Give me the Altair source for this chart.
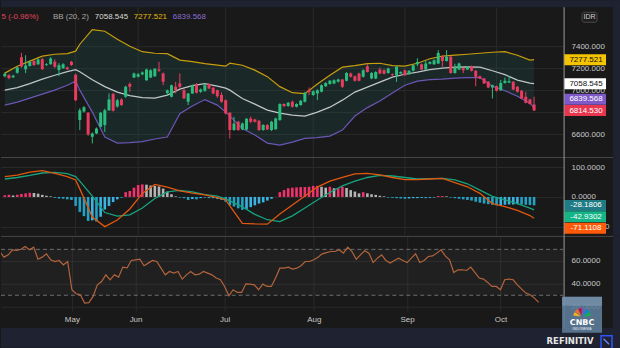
import json
import altair as alt
import pandas as pd

# ---------------- data ----------------
bars = list(range(128))
open_ = [7127, 7136, 7118, 7158, 7300, 7190, 7220, 7265, 7235, 7282,
         7228, 7236, 7258, 7183, 7200, 7207, 7258, 7140, 6727, 6805,
         6794, 6576, 6606, 6667, 6682, 6818, 6964, 6850, 6915, 6939,
         7055, 7115, 7121, 7145, 7091, 7115, 7127, 7188, 7152, 6975,
         6940, 7030, 7061, 7000, 6894, 6970, 7052, 6985, 6994, 7055,
         7021, 7000, 6955, 6909, 6794, 6636, 6712, 6642, 6642, 6742,
         6733, 6721, 6636, 6682, 6636, 6645, 6727, 6873, 6855, 6894,
         6848, 6864, 6894, 7000, 6955, 6970, 6985, 7036, 7055, 7061,
         7076, 7097, 7085, 7152, 7127, 7152, 7121, 7218, 7106, 7106,
         7188, 7182, 7157, 7145, 7136, 7152, 7182, 7145, 7176, 7236,
         7236, 7188, 7240, 7236, 7243, 7309, 7266, 7303, 7157, 7188,
         7200, 7188, 7218, 7176, 7127, 7106, 7076, 7024, 7036, 7000,
         7066, 7070, 7076, 7030, 6994, 6939, 6915, 6870]
high = [7160, 7145, 7140, 7212, 7340, 7318, 7270, 7275, 7290, 7295,
        7245, 7300, 7280, 7245, 7245, 7215, 7265, 7150, 6836, 6855,
        6800, 6615, 6660, 6800, 6830, 6970, 6975, 6920, 6925, 7040,
        7070, 7160, 7155, 7170, 7195, 7190, 7200, 7257, 7160, 7005,
        7050, 7075, 7152, 7010, 6975, 7050, 7065, 7015, 7060, 7062,
        7030, 7005, 6980, 6915, 6800, 6757, 6720, 6705, 6745, 6760,
        6740, 6728, 6690, 6690, 6720, 6750, 6880, 6880, 6892, 6905,
        6880, 6910, 6985, 7025, 6998, 7008, 7052, 7072, 7092, 7098,
        7104, 7102, 7164, 7160, 7133, 7158, 7190, 7235, 7164, 7172,
        7206, 7190, 7204, 7152, 7218, 7172, 7188, 7182, 7233, 7290,
        7242, 7270, 7263, 7280, 7364, 7315, 7364, 7310, 7240, 7250,
        7206, 7218, 7224, 7182, 7133, 7112, 7082, 7050, 7042, 7093,
        7115, 7130, 7082, 7036, 7000, 6985, 6921, 6940]
low = [7118, 7100, 7110, 7150, 7205, 7155, 7215, 7220, 7230, 7185,
       7220, 7232, 7200, 7128, 7195, 7185, 7220, 6900, 6636, 6795,
       6585, 6515, 6600, 6660, 6620, 6810, 6805, 6840, 6855, 6930,
       6985, 7110, 7115, 7135, 7085, 7110, 7120, 7167, 7045, 6950,
       6935, 6970, 7015, 6920, 6864, 6965, 6970, 6975, 6985, 7010,
       6962, 6930, 6885, 6780, 6560, 6630, 6628, 6635, 6635, 6700,
       6705, 6628, 6630, 6636, 6628, 6640, 6720, 6845, 6848, 6840,
       6842, 6858, 6888, 6955, 6948, 6909, 6980, 7030, 7050, 7055,
       7070, 7020, 7080, 7115, 7078, 7080, 7115, 7160, 7100, 7100,
       7146, 7144, 7150, 7130, 7075, 7146, 7130, 7140, 7170, 7218,
       7182, 7182, 7234, 7230, 7238, 7212, 7260, 7150, 7150, 7182,
       7155, 7182, 7170, 7036, 7100, 7055, 7018, 6924, 6988, 6994,
       7060, 7064, 7000, 6979, 6918, 6879, 6867, 6810]
close = [7150, 7110, 7130, 7206, 7215, 7225, 7258, 7228, 7278, 7190,
         7236, 7288, 7212, 7227, 7236, 7190, 7228, 6909, 6818, 6845,
         6597, 6606, 6650, 6794, 6818, 6915, 6812, 6909, 6864, 7030,
         7030, 7152, 7145, 7160, 7188, 7182, 7194, 7176, 7076, 7000,
         7045, 7000, 7030, 6924, 6970, 7045, 6976, 7005, 7045, 7015,
         6970, 6945, 6894, 6788, 6636, 6697, 6636, 6697, 6739, 6712,
         6712, 6636, 6682, 6642, 6712, 6742, 6873, 6855, 6885, 6848,
         6873, 6903, 6976, 6982, 6991, 7000, 7045, 7066, 7085, 7091,
         7097, 7030, 7157, 7121, 7085, 7085, 7182, 7166, 7157, 7166,
         7152, 7150, 7197, 7136, 7212, 7166, 7136, 7176, 7227, 7257,
         7188, 7243, 7257, 7273, 7339, 7266, 7303, 7157, 7206, 7243,
         7182, 7212, 7176, 7121, 7106, 7061, 7024, 7045, 6994, 7066,
         7085, 7080, 7006, 6985, 6924, 6885, 6873, 6814.53]

line_bars = [0, 3, 6, 9, 12, 15, 17, 18, 21, 24, 27, 30, 33, 36, 39, 42, 45, 48,
             51, 53, 54, 57, 60, 63, 66, 69, 72, 75, 78, 81, 84, 87, 90, 93, 96,
             99, 102, 105, 108, 111, 114, 117, 120, 123, 126, 127]
bb_upper = [7155, 7218, 7264, 7309, 7327, 7332, 7355, 7418, 7550, 7536, 7464,
            7400, 7350, 7336, 7332, 7273, 7259, 7241, 7227, 7218, 7245, 7227,
            7182, 7123, 7032, 6977, 6968, 7055, 7136, 7209, 7223, 7241, 7245,
            7223, 7218, 7245, 7286, 7309, 7318, 7327, 7336, 7345, 7350, 7318,
            7273, 7277.521]
bb_mid = [7000, 7023, 7059, 7100, 7136, 7168, 7186, 7168, 7095, 7032, 6982,
          6950, 6932, 6927, 6955, 7009, 7041, 7059, 7036, 7018, 7000, 6923,
          6873, 6818, 6791, 6773, 6764, 6800, 6845, 6909, 6982, 7027, 7073,
          7118, 7145, 7164, 7186, 7200, 7209, 7212, 7209, 7177, 7141, 7091,
          7064, 7058.545]
bb_lower = [6864, 6891, 6927, 6964, 7000, 7045, 7082, 7000, 6800, 6573, 6518,
            6523, 6532, 6555, 6573, 6786, 6855, 6914, 6864, 6800, 6764, 6650,
            6591, 6518, 6500, 6527, 6561, 6568, 6582, 6636, 6764, 6841, 6902,
            6973, 7045, 7082, 7095, 7100, 7109, 7114, 7115, 7036, 6995, 6945,
            6882, 6839.568]
macd_line = [67.7, 73, 83, 88, 79, 68, 57, 27, -67, -99, -77, -40, 12, 42, 33,
             20, 13, 7, -2, -10, -30, -88, -90, -91, -57, -27, 3, 33, 53, 65,
             77, 79, 74, 65, 58, 58, 60, 62, 48, 34, 12, -22, -32, -45, -62,
             -71.1108]
signal_line = [60, 65, 72, 80, 82, 78, 68, 53, 3, -52, -64, -60, -37, -5, 17,
               22, 17, 8, 3, -7, -13, -33, -58, -76, -82, -63, -37, -10, 15, 37,
               53, 65, 72, 70, 65, 60, 61, 62, 57, 44, 23, 2, -10, -22, -37,
               -42.9302]
hist = [6, 7, 5, 7, 10, 12, 14, 13, 11, 7,
        4, 2, -3, -5, -6, -8, -10, -30, -50, -64,
        -80, -78, -82, -66, -42, -30, -17, -8, -2, 16,
        20, 31, 40, 42, 41, 38, 37, 35, 28, 18,
        9, 2, -2, -4, -10, -7, -8, -4, -2, -4,
        -4, -7, -10, -16, -27, -32, -38, -43, -40, -34,
        -28, -22, -18, -12, -6, 0.5, 16, 23, 29, 31,
        32, 33, 33, 34, 37, 37, 34, 31, 34, 29,
        29, 34, 30, 23, 18, 12, 16, 12, 9, 7,
        4, 2, -2, -3, -4, -5, -6, -5, -4, -4,
        -3, -4, -3, -2, 3, 3, 2, -2, -4, -6,
        -8, -10, -12, -16, -19, -22, -24, -26, -28, -27,
        -26, -25, -25, -24, -25, -26, -27, -28.1806]
rsi = [68.1, 63.2, 65.2, 69.6, 69, 70.1, 72.5, 69.6, 71.9, 61.4,
       63.2, 66.1, 60.9, 59.4, 60.3, 56.5, 59.4, 34.8, 31.3, 30.4,
       23.2, 23.6, 29, 39.1, 42, 47.8, 43.5, 47.8, 45.8, 54.5,
       53.8, 60.3, 60.9, 61.4, 55.7, 58, 60.3, 59.4, 53.6, 47.8,
       50.7, 49.3, 50.7, 44.1, 47.8, 50.7, 47.8, 48.4, 50.7, 49.3,
       47.8, 45, 43.5, 37.7, 29.6, 34.8, 32.5, 32.5, 40, 39.7,
       39.1, 34.8, 39.7, 37.7, 37.7, 45, 53.6, 53.6, 54.5, 52.8,
       53.6, 55.7, 59.4, 59.4, 60.9, 63.2, 66.1, 67.2, 68.1, 68.1,
       69.6, 66.7, 71.9, 68.1, 61.4, 65.2, 68.7, 66.7, 58.5, 62.3,
       65.2, 60.3, 58, 60.3, 62.3, 60.3, 58.5, 62.3, 66.1, 58.5,
       60.3, 63.8, 64.3, 66.7, 69.6, 64.3, 60.9, 49.8, 52.2, 52.2,
       51.6, 54.5, 49.8, 45, 44.1, 41.2, 37.7, 37.7, 34.8, 43.5,
       44.1, 43.5, 39.1, 35.4, 31.9, 30.4, 27.5, 23.8]

month_ticks = [17, 32, 53, 74, 96, 118]
month_labels = ["May", "Jun", "Jul", "Aug", "Sep", "Oct"]
price_ticks = [6600, 6800, 7000, 7200, 7400]
macd_ticks = [-100, 0, 100]
rsi_ticks = [20, 40, 60]
rsi_band = [70, 30]
change_text = "5 (-0.96%)"
bb_name = "BB (20, 2)"
currency = "IDR"
feathers = [1, 1, 1, 1, 1, 1]

# ---------------- style ----------------
FONT = "Liberation Sans"
BG = "#191919"
NAVY = "#1f2230"
GRID = "#2a2a2a"
SEP = "#474747"
TXT = "#c8c8c8"
UP, DOWN = "#2bbd7e", "#ea3c5e"
C_UP, C_MID, C_LOW = "#c79d0e", "#c0c6c7", "#6b56b6"
C_MACD, C_SIG = "#e0570f", "#17a37f"
POS_UP, POS_DN, NEG_DN, NEG_UP = "#f0336c", "#b4b4b4", "#22a2c4", "#3ab4e2"
C_RSI = "#b3643c"
FEATHER_COLORS = ["#fcb711", "#f37021", "#cc004c", "#6460aa", "#0089d0", "#0db14b"]

W = 563
H1, H2, H3 = 150, 79, 75
FULL_W = 620

one = pd.DataFrame({"k": [0]})


def deco_rect(x, x2, y, y2, **kw):
    return alt.Chart(one).mark_rect(**kw).encode(
        x=alt.value(x), x2=alt.value(x2), y=alt.value(y), y2=alt.value(y2))


def deco_rule(x, x2, y, y2, **kw):
    return alt.Chart(one).mark_rule(**kw).encode(
        x=alt.value(x), x2=alt.value(x2), y=alt.value(y), y2=alt.value(y2))


def deco_text(x, y, txt, **kw):
    return alt.Chart(one).mark_text(**kw).encode(
        x=alt.value(x), y=alt.value(y), text=alt.value(txt))


xscale = alt.Scale(domain=[0.29, 132.76], nice=False, zero=False)
label_expr = "%s[indexof(%s, datum.value)]" % (json.dumps(month_labels), json.dumps(month_ticks))
xaxis_lab = alt.Axis(values=month_ticks, grid=True, gridColor=GRID, labels=True,
                     labelExpr=label_expr, ticks=False, domain=False, title=None,
                     labelColor=TXT, labelFontSize=8, labelFont=FONT, labelPadding=5,
                     labelFlush=False, labelOverlap=False)
X1 = alt.X("bar:Q", scale=xscale, axis=None)


def month_grid():
    return alt.Chart(pd.DataFrame({"bar": month_ticks})).mark_rule(
        color=GRID, strokeWidth=1).encode(x=X1)


def yaxis(vals, fmt):
    return alt.Axis(orient="right", values=vals, format=fmt, grid=True, gridColor=GRID,
                    domain=False, ticks=False, labelPadding=8, labelColor=TXT,
                    labelFontSize=8, labelFont=FONT, title=None, labelOverlap=False)


def value_box(value, txt, bg, fg, ysc, yax, dy=0):
    d = alt.Chart(pd.DataFrame({"v": [value]}))
    r = d.mark_rect(color=bg, yOffset=dy - 5.5, y2Offset=dy + 5.5).encode(
        x=alt.value(W + 1), x2=alt.value(W + 43),
        y=alt.Y("v:Q", scale=ysc, axis=yax), y2="v:Q")
    t = d.mark_text(color=fg, font=FONT, fontSize=8, align="center",
                    baseline="middle", dy=dy).encode(
        x=alt.value(W + 23), y=alt.Y("v:Q", scale=ysc, axis=yax), text=alt.value(txt))
    return [r, t]


# ---------------- main price panel ----------------
candles = pd.DataFrame({"bar": bars, "o": open_, "h": high, "l": low, "c": close})
candles["col"] = [UP if c >= o else DOWN for o, c in zip(open_, close)]
bb = pd.DataFrame({"bar": line_bars, "upper": bb_upper, "mid": bb_mid, "lower": bb_lower})

ys1 = alt.Scale(domain=[6391, 7754.5], nice=False, zero=False)
ya1 = yaxis(price_ticks, ".3f")

layers1 = [
    month_grid(),
    alt.Chart(bb).mark_area(clip=True, color="#1d6b66", opacity=0.2).encode(
        x=X1, y=alt.Y("upper:Q", scale=ys1, axis=ya1), y2="lower:Q"),
    alt.Chart(bb).mark_line(clip=True, color=C_UP, strokeWidth=1.2).encode(
        x=X1, y=alt.Y("upper:Q", scale=ys1, axis=ya1)),
    alt.Chart(bb).mark_line(clip=True, color=C_MID, strokeWidth=1.2).encode(
        x=X1, y=alt.Y("mid:Q", scale=ys1, axis=ya1)),
    alt.Chart(bb).mark_line(clip=True, color=C_LOW, strokeWidth=1.2).encode(
        x=X1, y=alt.Y("lower:Q", scale=ys1, axis=ya1)),
    alt.Chart(candles).mark_rule(clip=True, strokeWidth=1).encode(
        x=X1, y=alt.Y("l:Q", scale=ys1, axis=ya1), y2="h:Q",
        color=alt.Color("col:N", scale=None)),
    alt.Chart(candles).mark_bar(clip=True, size=3).encode(
        x=X1, y=alt.Y("o:Q", scale=ys1, axis=ya1), y2="c:Q",
        color=alt.Color("col:N", scale=None)),
]
layers1 += value_box(bb_upper[-1], f"{bb_upper[-1]:.3f}", "#f5c400", "#111111", ys1, ya1)
layers1 += value_box(bb_mid[-1], f"{bb_mid[-1]:.3f}", "#ffffff", "#111111", ys1, ya1)
layers1 += value_box(bb_lower[-1], f"{bb_lower[-1]:.3f}", "#8059c9", "#ffffff", ys1, ya1, dy=-8.6)
layers1 += value_box(close[-1], f"{close[-1]:.3f}", "#e8364f", "#ffffff", ys1, ya1)
layers1 += [
    deco_text(0.5, 10, change_text, color="#e0455e", font=FONT, fontSize=8, align="left", baseline="middle"),
    deco_text(52, 10, bb_name, color="#a8a8a8", font=FONT, fontSize=8, align="left", baseline="middle"),
    deco_text(94, 10, f"{bb_mid[-1]:.3f}", color="#d8d8d8", font=FONT, fontSize=8, align="left", baseline="middle"),
    deco_text(133, 10, f"{bb_upper[-1]:.3f}", color="#e2b80a", font=FONT, fontSize=8, align="left", baseline="middle"),
    deco_text(172, 10, f"{bb_lower[-1]:.3f}", color="#8a6bd0", font=FONT, fontSize=8, align="left", baseline="middle"),
    deco_rect(W + 19, W + 34, 5, 15, color="#1e1e1e", stroke="#4a4a4a", strokeWidth=1, cornerRadius=2),
    deco_text(W + 26.5, 10, currency, color="#d0d0d0", font=FONT, fontSize=7, align="center", baseline="middle"),
    deco_rect(0, FULL_W, -7, 0, color=NAVY),
    deco_rect(613, FULL_W, -7, H1, color=NAVY),
    deco_rule(W + 1, W + 1, 0, H1, color="#9a9a9a", strokeWidth=1),
]
chart1 = alt.layer(*layers1).properties(width=W, height=H1)

# ---------------- MACD panel ----------------
hcol = []
prev = hist[0]
for v in hist:
    if v >= 0:
        hcol.append(POS_UP if v >= prev else POS_DN)
    else:
        hcol.append(NEG_DN if v < prev else NEG_UP)
    prev = v
hdf = pd.DataFrame({"bar": bars, "hist": hist, "col": hcol})
mdf = pd.DataFrame({"bar": line_bars, "macd": macd_line, "signal": signal_line})

ys2 = alt.Scale(domain=[-130, 133.3], nice=False, zero=False)
ya2 = yaxis(macd_ticks, ".4f")
layers2 = [
    month_grid(),
    alt.Chart(hdf).mark_bar(clip=True, size=2.6).encode(
        x=X1, y=alt.Y("hist:Q", scale=ys2, axis=ya2), y2=alt.datum(0),
        color=alt.Color("col:N", scale=None)),
    alt.Chart(mdf).mark_line(clip=True, color=C_SIG, strokeWidth=1.3).encode(
        x=X1, y=alt.Y("signal:Q", scale=ys2, axis=ya2)),
    alt.Chart(mdf).mark_line(clip=True, color=C_MACD, strokeWidth=1.3).encode(
        x=X1, y=alt.Y("macd:Q", scale=ys2, axis=ya2)),
]
layers2 += value_box(hist[-1], f"{hist[-1]:.4f}", "#1f7c84", "#ffffff", ys2, ya2)
layers2 += value_box(signal_line[-1], f"{signal_line[-1]:.4f}", "#14b487", "#ffffff", ys2, ya2, dy=7)
layers2 += value_box(macd_line[-1], f"{macd_line[-1]:.4f}", "#ff5a0a", "#ffffff", ys2, ya2, dy=10)
layers2 += [
    deco_rule(0, 613, 0.5, 0.5, color=SEP, strokeWidth=1),
    deco_rect(613, FULL_W, 0, H2, color=NAVY),
    deco_rule(W + 1, W + 1, 0, H2, color="#9a9a9a", strokeWidth=1),
]
chart2 = alt.layer(*layers2).properties(width=W, height=H2)

# ---------------- RSI panel ----------------
rdf = pd.DataFrame({"bar": bars, "rsi": rsi})
band = pd.DataFrame({"hi": [rsi_band[0]], "lo": [rsi_band[1]]})
lvl = pd.DataFrame({"lvl": rsi_band})
ys3 = alt.Scale(domain=[16.5, 81.7], nice=False, zero=False)
ya3 = yaxis(rsi_ticks, ".4f")
X3 = alt.X("bar:Q", scale=xscale, axis=xaxis_lab)

layers3 = [
    alt.Chart(band).mark_rect(color="#ffffff", opacity=0.03).encode(
        x=alt.value(0), x2=alt.value(W),
        y=alt.Y("hi:Q", scale=ys3, axis=ya3), y2="lo:Q"),
    alt.Chart(lvl).mark_rule(color="#6e6e6e", strokeDash=[4, 3], strokeWidth=1).encode(
        x=alt.value(0), x2=alt.value(W), y=alt.Y("lvl:Q", scale=ys3, axis=ya3)),
    alt.Chart(rdf).mark_line(clip=True, color=C_RSI, strokeWidth=1.2).encode(
        x=X3, y=alt.Y("rsi:Q", scale=ys3, axis=ya3)),
    deco_rule(0, 613, 0.5, 0.5, color=SEP, strokeWidth=1),
    deco_rule(W + 1, W + 1, 0, H3 + 17, color="#9a9a9a", strokeWidth=1),
    deco_rect(0, FULL_W, H3 + 17, H3 + 37, color=NAVY),
    deco_rect(613, FULL_W, 0, H3 + 37, color=NAVY),
    # CNBC badge
    deco_rect(W - 1, W + 39, H3 - 14, H3 + 22, color="#5d7b98", opacity=0.9),
    deco_rect(W - 1, W + 39, H3 - 14, H3 - 5, color="#8aa3bb", opacity=0.5),
    alt.Chart(pd.DataFrame({"w": feathers, "fc": FEATHER_COLORS, "i": list(range(6))})).mark_arc(
        innerRadius=2, outerRadius=9, stroke="#5d7b98", strokeWidth=0.5).encode(
        theta=alt.Theta("w:Q", stack=True, scale=alt.Scale(range=[-1.45, 1.45])),
        order=alt.Order("i:Q"),
        color=alt.Color("fc:N", scale=None),
        x=alt.value(W + 19), y=alt.value(H3 + 6)),
    deco_text(W + 19, H3 + 12.5, "CNBC", color="#ffffff", font="DejaVu Sans", fontSize=8,
              fontWeight="bold", align="center", baseline="middle"),
    deco_text(W + 19, H3 + 18, "INDONESIA", color="#e8eef4", font=FONT, fontSize=3.5,
              align="center", baseline="middle"),
    deco_text(570, H3 + 30, "REFINITIV", color="#e6e6e6", font="DejaVu Sans", fontSize=8.5,
              fontWeight="bold", align="center", baseline="middle"),
    deco_rect(601, 612, H3 + 25, H3 + 38, color=NAVY, stroke="#2f55ff", strokeWidth=1.5),
    deco_rule(603.5, 609, H3 + 28, H3 + 33.5, color="#6f8bff", strokeWidth=1.2),
]
chart3 = alt.layer(*layers3).properties(width=W, height=H3)

chart = (
    alt.vconcat(chart1, chart2, chart3, spacing=0, bounds="flush")
    .resolve_scale(x="independent", y="independent", color="independent", theta="independent")
    .resolve_axis(x="independent", y="independent")
    .properties(background=BG, padding=0)
    .configure_view(stroke=None)
    .configure_axis(labelFont=FONT)
)

chart.save("out.html", embed_options={"renderer": "svg", "actions": False})
